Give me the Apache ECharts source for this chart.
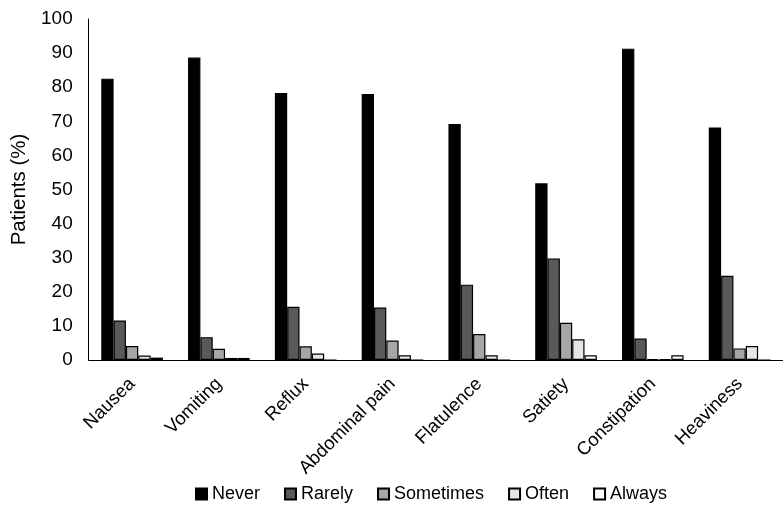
<!DOCTYPE html>
<html>
<head>
<meta charset="utf-8">
<script src="https://cdn.jsdelivr.net/npm/echarts@6/dist/echarts.min.js"></script>
<style>
html,body{margin:0;padding:0;background:#fff;}
#chart{width:783px;height:506px;}
</style>
</head>
<body>
<div id="chart"></div>
<script>
const categories = ['Nausea','Vomiting','Reflux','Abdominal pain','Flatulence','Satiety','Constipation','Heaviness'];
const seriesNames = ['Never','Rarely','Sometimes','Often','Always'];
const never     = [82.5, 88.7, 78.3, 78.0, 69.2, 51.8, 91.3, 68.2];
const rarely    = [11.6, 6.7, 15.6, 15.4, 22.1, 29.8, 6.3, 24.7];
const sometimes = [4.1, 3.3, 4.0, 5.7, 7.6, 10.9, 0.3, 3.4];
const often     = [1.3, 0.6, 1.9, 1.4, 1.4, 6.1, 0.3, 4.1];
const always    = [0.7, 0.6, 0, 0, 0, 1.4, 1.4, 0];
const yTicks = [0,10,20,30,40,50,60,70,80,90,100];
const colors = ['#000000','#595959','#a6a6a6','#e6e6e6','#ffffff'];
const values = [never, rarely, sometimes, often, always];

const chart = echarts.init(document.getElementById('chart'), null, {renderer:'canvas'});
const font = 'Liberation Sans, Arial, sans-serif';
chart.setOption({
  animation: false,
  backgroundColor: '#fff',
  grid: {left: 88.7, right: -9.7, top: 19, bottom: 146, containLabel: false},
  legend: {
    top: 480, left: 190,
    itemWidth: 11, itemHeight: 11, itemGap: 24,
    icon: 'rect',
    textStyle: {fontFamily: font, fontSize: 18, color: '#000'},
    data: seriesNames
  },
  xAxis: {
    type: 'category', data: categories,
    axisLine: {lineStyle: {color: '#000', width: 1}},
    axisTick: {show: false},
    axisLabel: {rotate: 45, fontFamily: font, fontSize: 18.5, color: '#000', margin: 21, interval: 0}
  },
  yAxis: {
    type: 'value', min: yTicks[0], max: yTicks[yTicks.length-1], interval: 10,
    name: 'Patients (%)', nameLocation: 'middle', nameGap: 56,
    nameTextStyle: {fontFamily: font, fontSize: 20.5, color: '#000'},
    axisLine: {show: true, lineStyle: {color: '#000', width: 1}},
    axisTick: {show: false},
    splitLine: {show: false},
    axisLabel: {fontFamily: font, fontSize: 19, color: '#000', margin: 16}
  },
  series: seriesNames.map((n, i) => ({
    name: n, type: 'bar', data: values[i],
    barGap: '0%', barCategoryGap: '29%',
    itemStyle: {color: colors[i], borderColor: '#000', borderWidth: 1.2}
  }))
});
</script>
</body>
</html>
